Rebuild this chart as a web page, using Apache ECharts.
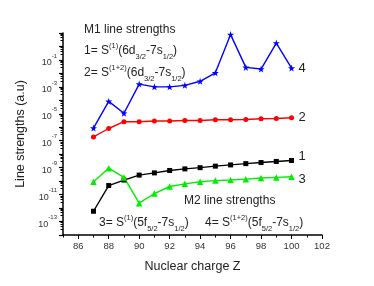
<!DOCTYPE html>
<html>
<head>
<meta charset="utf-8">
<script src="https://cdn.jsdelivr.net/npm/echarts@6/dist/echarts.min.js"></script>
<style>html,body{margin:0;padding:0;background:#fff}#c{width:374px;height:286px}</style>
</head>
<body>
<div id="c"></div>
<script>
const Z = [87, 88, 89, 90, 91, 92, 93, 94, 95, 96, 97, 98, 99, 100];
const s1 = [5.8e-13, 4.7e-11, 1.2e-10, 2.8e-10, 4.1e-10, 6.2e-10, 8.1e-10, 1.0e-9, 1.3e-9, 1.6e-9, 2.0e-9, 2.4e-9, 2.9e-9, 3.4e-9];
const s2 = [1.9e-7, 8.1e-7, 2.6e-6, 2.6e-6, 2.9e-6, 2.9e-6, 3.2e-6, 3.2e-6, 3.6e-6, 3.6e-6, 3.8e-6, 4.3e-6, 4.5e-6, 5.1e-6];
const s3 = [8.9e-11, 9.1e-10, 1.9e-10, 2.3e-12, 1.2e-11, 4.0e-11, 6.3e-11, 8.9e-11, 1.1e-10, 1.2e-10, 1.4e-10, 1.7e-10, 1.9e-10, 2.1e-10];
const s4 = [8.7e-7, 8.3e-5, 1.1e-5, 1.6e-3, 1.0e-3, 1.0e-3, 1.3e-3, 2.6e-3, 1.1e-2, 7.6, 2.8e-2, 2.1e-2, 1.8, 2.5e-2];
const xMajor = [86, 88, 90, 92, 94, 96, 98, 100, 102];
const xMinor = [85, 87, 89, 91, 93, 95, 97, 99, 101];
const seriesNames = ['1', '2', '3', '4'];

const FONT = 'Liberation Sans, Arial, sans-serif';
const pair = a => a.map((v, i) => [Z[i], v]);

const chart = echarts.init(document.getElementById('c'), null, {renderer: 'canvas'});

const rich = {
  n: {fontSize: 12, fontFamily: FONT, color: '#222', lineHeight: 20, verticalAlign: 'middle'},
  sup: {fontSize: 7.5, fontFamily: FONT, color: '#222', lineHeight: 20, verticalAlign: 'top', padding: [1, 0, 0, 0]},
  sub: {fontSize: 7.5, fontFamily: FONT, color: '#222', lineHeight: 20, verticalAlign: 'bottom', padding: [0, 0, 0, 0]}
};
function txt(x, y, s) {
  return {type: 'text', left: x, top: y, style: {text: s, rich: rich, font: '12px ' + FONT, fill: '#222'}};
}

function mkSeries(name, data, symbol, size, color, dy) {
  return {
    name: name, type: 'line', data: pair(data), symbol: symbol, symbolSize: size,
    lineStyle: {color: color, width: 1.4}, itemStyle: {color: color},
    emphasis: {disabled: true}, animation: false,
    endLabel: {show: true, formatter: name, color: '#222', fontSize: 13, fontFamily: FONT, distance: 7, offset: [0, dy]}
  };
}

chart.setOption({
  animation: false,
  grid: {left: 63, right: 52, top: 33, bottom: 51, containLabel: false},
  xAxis: [{
    type: 'value', min: 85, max: 102, interval: 1,
    name: 'Nuclear charge Z', nameLocation: 'middle', nameGap: 25,
    nameTextStyle: {fontSize: 12.5, fontFamily: FONT, color: '#222'},
    axisLine: {show: true, lineStyle: {color: '#000', width: 1.5}},
    axisTick: {show: true, length: 4, customValues: xMajor, lineStyle: {color: '#000', width: 1}},
    axisLabel: {customValues: xMajor, fontSize: 9.5, fontFamily: FONT, color: '#333', margin: 6},
    splitLine: {show: false}
  }, {
    type: 'value', min: 85, max: 102, position: 'bottom',
    axisLine: {show: false},
    axisTick: {show: true, length: 2.5, customValues: xMinor, lineStyle: {color: '#000', width: 1}},
    axisLabel: {show: false}, splitLine: {show: false}
  }],
  yAxis: {
    type: 'log', logBase: 10, min: 1e-14, max: 10, interval: 1,
    name: 'Line strengths (a.u)', nameLocation: 'middle', nameGap: 36,
    nameTextStyle: {fontSize: 12.5, fontFamily: FONT, color: '#222'},
    axisLine: {show: true, lineStyle: {color: '#000', width: 1.5}},
    axisTick: {show: true, length: 4, lineStyle: {color: '#000', width: 1.2}},
    minorTick: {show: true, splitNumber: 5, length: 2.5, lineStyle: {color: '#000', width: 1}},
    splitLine: {show: false},
    axisLabel: {
      margin: 6,
      formatter: function (v) {
        const e = Math.round(Math.log10(v));
        if (e >= 0 || Math.abs(e) % 2 !== 1) return '';
        return '{b|10}{s|' + e + '}';
      },
      rich: {
        b: {fontSize: 9, fontFamily: FONT, color: '#333', lineHeight: 14, verticalAlign: 'bottom'},
        s: {fontSize: 6, fontFamily: FONT, color: '#333', lineHeight: 14, verticalAlign: 'top'}
      }
    }
  },
  series: [
    mkSeries(seriesNames[0], s1, 'rect', 5, '#000000', -4),
    mkSeries(seriesNames[1], s2, 'circle', 5, '#ff0000', 0),
    mkSeries(seriesNames[2], s3, 'triangle', 6.5, '#00ee00', 3),
    mkSeries(seriesNames[3], s4, 'path://M0,-10L2.35,-3.24L9.51,-3.09L3.8,1.24L5.88,8.09L0,4L-5.88,8.09L-3.8,1.24L-9.51,-3.09L-2.35,-3.24Z', 7, '#0000ff', 0)
  ],
  graphic: [
    txt(84, 24, '{n|M1 line strengths}'),
    txt(84, 41, '{n|1= S}{sup|(1)}{n|(6d}{sub|3/2}{n|-7s}{sub|1/2}{n|)}'),
    txt(84, 63, '{n|2= S}{sup|(1+2)}{n|(6d}{sub|3/2}{n|-7s}{sub|1/2}{n|)}'),
    txt(184, 195, '{n|M2 line strengths}'),
    txt(99, 213, '{n|3= S}{sup|(1)}{n|(5f}{sub|5/2}{n|-7s}{sub|1/2}{n|)}'),
    txt(205, 213, '{n|4= S}{sup|(1+2)}{n|(5f}{sub|5/2}{n|-7s}{sub|1/2}{n|)}')
  ]
});
</script>
</body>
</html>
